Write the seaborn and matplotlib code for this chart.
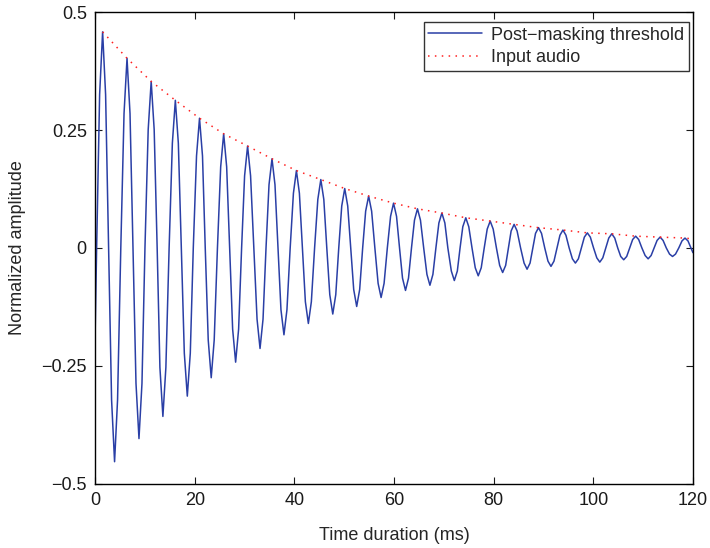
import matplotlib
matplotlib.use("Agg")
import matplotlib.pyplot as plt
import seaborn as sns
import pandas as pd

# post-masking threshold, points (ms, amplitude);
# one row per half cycle: shoulder, extreme, shoulder, zero crossing
post_t = [0, 0.3,
          0.9, 1.5, 2.1, 2.7,
          3.3, 3.9, 4.5, 5.15,
          5.8, 6.4, 7.0, 7.6,
          8.2, 8.8, 9.4, 10.0,
          10.65, 11.25, 11.85, 12.45,
          13.0, 13.6, 14.2, 14.85,
          15.5, 16.1, 16.7, 17.3,
          17.9, 18.5, 19.1, 19.7,
          20.35, 20.95, 21.55, 22.1,
          22.7, 23.3, 23.9, 24.55,
          25.2, 25.8, 26.4, 27.0,
          27.6, 28.2, 28.8, 29.4,
          30.0, 30.6, 31.2, 31.85,
          32.5, 33.1, 33.7, 34.3,
          34.9, 35.5, 36.1, 36.7,
          37.3, 37.9, 38.5, 39.15,
          39.8, 40.4, 41.0, 41.6,
          42.2, 42.8, 43.4, 44.05,
          44.7, 45.3, 45.9, 46.5,
          47.1, 47.7, 48.3, 48.9,
          49.5, 50.1, 50.7, 51.3,
          51.9, 52.5, 53.1, 53.7,
          54.3, 54.9, 55.5, 56.15,
          56.8, 57.4, 58.0, 58.65,
          59.3, 59.9, 60.5, 61.1,
          61.7, 62.3, 62.9, 63.5,
          64.1, 64.7, 65.3, 65.95,
          66.6, 67.2, 67.8, 68.4,
          69.0, 69.6, 70.2, 70.8,
          71.5, 72.1, 72.7, 73.25,
          73.8, 74.4, 75.0, 75.65,
          76.3, 76.9, 77.5, 78.1,
          78.7, 79.3, 79.9, 80.55,
          81.2, 81.8, 82.4, 82.95,
          83.5, 84.1, 84.7, 85.4,
          86.1, 86.7, 87.3, 87.85,
          88.4, 89.0, 89.6, 90.25,
          90.9, 91.5, 92.1, 92.7,
          93.3, 93.9, 94.5, 95.15,
          95.8, 96.4, 97.0, 97.6,
          98.2, 98.8, 99.4, 100.05,
          100.7, 101.3, 101.9, 102.5,
          103.1, 103.7, 104.3, 104.9,
          105.5, 106.1, 106.7, 107.3,
          107.9, 108.5, 109.1, 109.75,
          110.4, 111.0, 111.6, 112.2,
          112.8, 113.4, 114.0, 114.65,
          115.3, 115.9, 116.5, 117.15,
          117.8, 118.4, 119.0, 119.6,
          120]
post_v = [-0.18, 0,
          0.325, 0.458, 0.325, 0,
          -0.322, -0.453, -0.322, 0,
          0.285, 0.402, 0.285, 0,
          -0.287, -0.404, -0.287, 0,
          0.251, 0.353, 0.251, 0,
          -0.253, -0.357, -0.253, 0,
          0.222, 0.313, 0.222, 0,
          -0.223, -0.314, -0.223, 0,
          0.195, 0.275, 0.195, 0,
          -0.195, -0.275, -0.195, 0,
          0.172, 0.242, 0.172, 0,
          -0.172, -0.242, -0.172, 0,
          0.153, 0.216, 0.153, 0,
          -0.151, -0.213, -0.151, 0,
          0.134, 0.189, 0.134, 0,
          -0.131, -0.184, -0.131, 0,
          0.116, 0.164, 0.116, 0,
          -0.114, -0.160, -0.114, 0,
          0.103, 0.145, 0.103, 0,
          -0.099, -0.140, -0.099, 0,
          0.089, 0.126, 0.089, 0,
          -0.088, -0.124, -0.088, 0,
          0.078, 0.110, 0.078, 0,
          -0.075, -0.105, -0.075, 0,
          0.067, 0.095, 0.067, 0,
          -0.064, -0.090, -0.064, 0,
          0.059, 0.083, 0.059, 0,
          -0.056, -0.079, -0.056, 0,
          0.053, 0.074, 0.053, 0,
          -0.049, -0.069, -0.049, 0,
          0.045, 0.064, 0.045, 0,
          -0.042, -0.059, -0.042, 0,
          0.040, 0.057, 0.040, 0,
          -0.037, -0.052, -0.037, 0,
          0.036, 0.050, 0.036, 0,
          -0.032, -0.045, -0.032, 0,
          0.031, 0.043, 0.031, 0,
          -0.028, -0.039, -0.028, 0,
          0.027, 0.038, 0.027, 0,
          -0.023, -0.032, -0.023, 0,
          0.023, 0.032, 0.023, 0,
          -0.021, -0.030, -0.021, 0,
          0.021, 0.030, 0.021, 0,
          -0.018, -0.025, -0.018, 0,
          0.018, 0.025, 0.018, 0,
          -0.016, -0.023, -0.016, 0,
          0.016, 0.023, 0.016, 0,
          -0.013, -0.018, -0.013, 0,
          0.015, 0.021, 0.015, 0,
          -0.010]

# input audio envelope
inp_t = [1.5, 6.4, 11.25, 16.1, 20.95, 25.8, 30.6, 35.5, 40.4, 45.3, 50.1, 54.9, 59.9,
         64.7, 69.6, 74.4, 79.3, 84.1, 89.0, 93.9, 98.8, 103.7, 108.5, 113.4, 118.4, 120]
inp_v = [0.458, 0.402, 0.353, 0.313, 0.275, 0.242, 0.216, 0.189, 0.164, 0.145, 0.126,
         0.110, 0.095, 0.083, 0.074, 0.064, 0.057, 0.050, 0.043, 0.038, 0.032, 0.030,
         0.025, 0.023, 0.021, 0.019]

x_ticks = [0, 20, 40, 60, 80, 100, 120]
y_ticks = [-0.5, -0.25, 0, 0.25, 0.5]
y_labels = ["\u22120.5", "\u22120.25", "0", "0.25", "0.5"]

sns.set_style("ticks")
plt.rcParams['font.family'] = ['Liberation Sans', 'DejaVu Sans']
plt.rcParams['xtick.direction'] = 'in'
plt.rcParams['ytick.direction'] = 'in'

post = pd.DataFrame({"t": post_t, "v": post_v})
inp = pd.DataFrame({"t": inp_t, "v": inp_v})

fig = plt.figure(figsize=(7.1, 5.48), dpi=100)
ax = fig.add_axes([0.134, 0.117, 0.842, 0.861])

sns.lineplot(data=post, x="t", y="v", ax=ax, color="#2a3fa6", linewidth=1.1,
             label="Post\u2212masking threshold", sort=False, estimator=None)
sns.lineplot(data=inp, x="t", y="v", ax=ax, color="#ff2020", linewidth=1.1,
             linestyle=(0, (1, 3.5)), label="Input audio", sort=False, estimator=None)

ax.set_xlim(0, 120)
ax.set_ylim(-0.5, 0.5)
ax.set_xticks(x_ticks)
ax.set_xticklabels([str(v) for v in x_ticks])
ax.set_yticks(y_ticks)
ax.set_yticklabels(y_labels)
ax.tick_params(axis='both', labelsize=13, length=5, width=0.8, top=True, right=True,
               colors='#1a1a1a', pad=6)
for s in ax.spines.values():
    s.set_visible(True)
    s.set_linewidth(1.0)
    s.set_color('black')
ax.set_xlabel("Time duration (ms)", fontsize=13, labelpad=13)
ax.set_ylabel("Normalized amplitude", fontsize=13, labelpad=11)

leg = ax.legend(loc='upper right', bbox_to_anchor=(0.9933, 0.9788), fontsize=13,
                frameon=True, fancybox=False, borderaxespad=0, handlelength=3.0,
                labelspacing=0.3, borderpad=0.25, handletextpad=0.5)
leg.get_frame().set_edgecolor('black')
leg.get_frame().set_linewidth(1.0)

fig.savefig("out.png", dpi=100)
